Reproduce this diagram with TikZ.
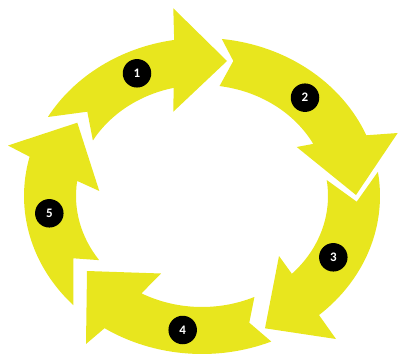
\documentclass[tikz,border=0pt]{standalone}
\usepackage{fontspec}
\newfontfamily\stepfont{Carlito}
\usetikzlibrary{positioning}
\definecolor{cycleyellow}{RGB}{232,230,30}

\begin{document}
\begin{tikzpicture}[x=1pt, y=-1pt,
  band/.style={fill=cycleyellow, draw=none},
  stepdot/.style={circle, fill=black, text=white, minimum size=28.5pt, inner sep=0pt,
    font=\stepfont\fontsize{13}{13}\selectfont\bfseries}]

\useasboundingbox (0,0) rectangle (398,355);

% Ring of five arrows around the centre
\begin{scope}[shift={(202,196)}]
  % Arrow 1 (top left, pointing right)
  \fill[band] (210:178 and 158) arc[start angle=210, end angle=261, x radius=178, y radius=158]
    -- (-28.7,-187.7) -- (25,-135) -- (-28.7,-84.3)
    -- (257:126 and 111) arc[start angle=257, end angle=210, x radius=126, y radius=111]
    -- (-114.7,-84.3) -- cycle;
  % Arrow 2 (top right, pointing down)
  \fill[band] (276.4:178 and 158) arc[start angle=276.4, end angle=337.4, x radius=178, y radius=158]
    -- (195.7,-63) -- (154,-1) -- (94.7,-49)
    -- (332:126 and 111) arc[start angle=332, end angle=278, x radius=126, y radius=111]
    -- (31.3,-135) -- cycle;
  % Arrow 3 (right, pointing down left)
  \fill[band] (-8.8:178 and 158) arc[start angle=-8.8, end angle=48.9, x radius=178, y radius=158]
    -- (134,143) -- (63,132.3) -- (77,60)
    -- (44.5:126 and 111) arc[start angle=44.5, end angle=-8.3, x radius=126, y radius=111]
    -- (154.7,5.7) -- cycle;
  % Arrow 4 (bottom, pointing left)
  \fill[band] (67.1:178 and 158) arc[start angle=67.1, end angle=123.2, x radius=178, y radius=158]
    -- (-116,148) -- (-115,75) -- (-41,77.5)
    -- (118.7:126 and 111) arc[start angle=118.7, end angle=65.4, x radius=126, y radius=111]
    -- (47.3,126.7) -- cycle;
  % Arrow 5 (left, pointing up)
  \fill[band] (136.3:178 and 158) arc[start angle=136.3, end angle=194.4, x radius=178, y radius=158]
    -- (-194,-50.5) -- (-124.7,-73.3) -- (-102.7,-5)
    -- (187.8:126 and 111) arc[start angle=187.8, end angle=144.7, x radius=126, y radius=111]
    -- (-128.7,62.3) -- cycle;
\end{scope}

% Step numbers
\node[stepdot] (s1) at (137,73.3) {1};
\node[stepdot] (s2) at (305,97.7) {2};
\node[stepdot] (s3) at (333.3,257.3) {3};
\node[stepdot] (s4) at (182.7,330) {4};
\node[stepdot] (s5) at (49.3,213.3) {5};

\end{tikzpicture}
\end{document}
